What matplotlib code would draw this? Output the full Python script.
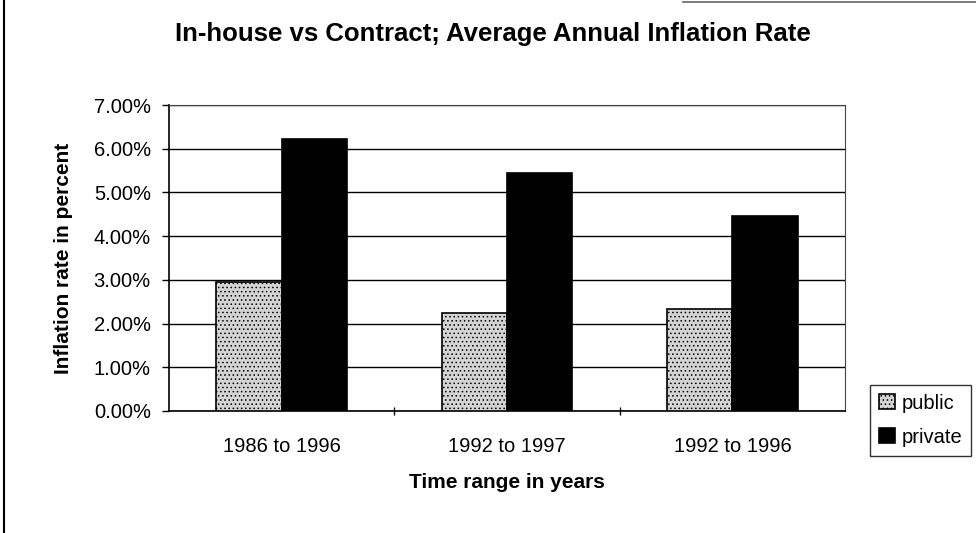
import numpy as np
import matplotlib.pyplot as plt
from matplotlib.lines import Line2D
from matplotlib.ticker import PercentFormatter

# ── Data ──────────────────────────────────────────────────────────────────
categories = ["1986 to 1996", "1992 to 1997", "1992 to 1996"]
public  = [2.96, 2.24, 2.33]   # percent
private = [6.22, 5.44, 4.45]   # percent
y_ticks = [0, 1, 2, 3, 4, 5, 6, 7]

plt.rcParams["font.family"] = ["Liberation Sans", "DejaVu Sans"]
plt.rcParams["hatch.linewidth"] = 0.6

fig = plt.figure(figsize=(9.76, 5.33), dpi=100)
ax = fig.add_axes([0.173, 0.229, 0.693, 0.574])

x = np.arange(len(categories))
w = 0.29
ax.bar(x - w / 2, public, w, color="#d4d4d4", edgecolor="black",
       hatch="....", linewidth=1.2, label="public", zorder=3)
ax.bar(x + w / 2, private, w, color="black", edgecolor="black",
       linewidth=1.2, label="private", zorder=3)

ax.set_xlim(-0.5, len(categories) - 0.5)
ax.set_ylim(0, 7)
ax.set_yticks(y_ticks)
ax.yaxis.set_major_formatter(PercentFormatter(decimals=2))
ax.yaxis.grid(True, color="black", linewidth=1.0, zorder=0)

# category labels centred, tick marks on the category boundaries
ax.set_xticks(x)
ax.set_xticklabels(categories, fontsize=14.5)
ax.tick_params(axis="x", which="major", length=0, pad=19)
ax.set_xticks(np.arange(0.5, len(categories) - 0.5, 1), minor=True)
ax.tick_params(axis="x", which="minor", length=6, direction="inout", width=1)
ax.tick_params(axis="y", labelsize=14.5, length=5, width=1, pad=8)

for side in ["top", "right"]:
    ax.spines[side].set_linestyle((0, (3, 1)))
    ax.spines[side].set_color("#444444")
    ax.spines[side].set_linewidth(0.8)
ax.spines["left"].set_linewidth(1.2)
ax.spines["bottom"].set_linewidth(1.2)

ax.set_xlabel("Time range in years", fontsize=15, fontweight="bold", labelpad=12)
ax.set_ylabel("Inflation rate in percent", fontsize=15, fontweight="bold", labelpad=15)
fig.text(0.505, 0.923, "In-house vs Contract; Average Annual Inflation Rate",
         ha="center", va="baseline", fontsize=18.5, fontweight="bold")

leg = ax.legend(loc="center left", bbox_to_anchor=(1.022, -0.03), fontsize=14.5,
                frameon=True, fancybox=False, edgecolor="black",
                handlelength=0.8, handleheight=0.8, handletextpad=0.3,
                borderpad=0.45, labelspacing=0.75)
leg.get_frame().set_linewidth(1.0)

# scanned page border
fig.add_artist(Line2D([0.004, 0.004], [0.0, 1.0], color="black", lw=1.5))
fig.add_artist(Line2D([0.70, 1.0], [0.996, 0.996], color="#666666", lw=1.2))

fig.savefig("out.png", dpi=100)
